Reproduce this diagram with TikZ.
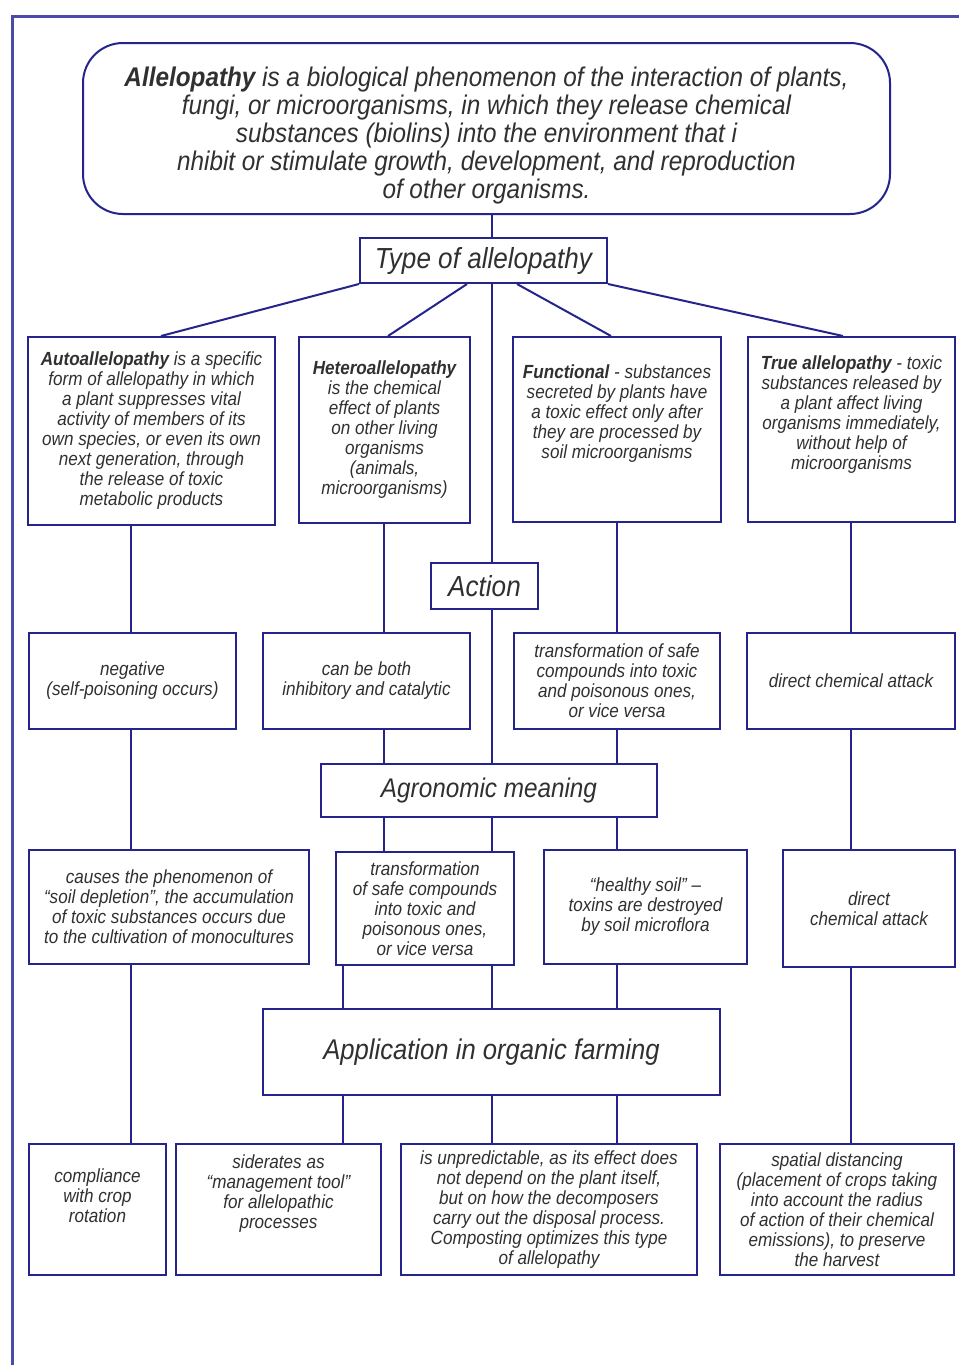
\documentclass[tikz,border=0pt]{standalone}
\usepackage{fontspec}
\setmainfont{Liberation Sans}[FakeStretch=0.9]
\definecolor{navy}{HTML}{24248C}
\definecolor{framec}{HTML}{4A4AA8}
\definecolor{txt}{HTML}{303030}
\tikzset{
  box/.style={draw=navy, line width=2pt, fill=white, align=center, inner sep=0pt, text=txt},
  big/.style={font=\fontsize{29}{30}\selectfont\itshape},
  small/.style={font=\fontsize{19}{20}\selectfont\itshape},
  conn/.style={draw=navy, line width=2pt},
  frame/.style={draw=framec, line width=3pt}
}
\begin{document}
\begin{tikzpicture}[x=1pt,y=-1pt]
\useasboundingbox (0,0) rectangle (959,1365);
\fill[white] (0,0) rectangle (959,1365);
\draw[frame] (12,1365) -- (12,16) -- (959,16);
% column x coordinates
\coordinate (c1) at (131,0);
\coordinate (c2) at (384,0);
\coordinate (c0) at (492,0);
\coordinate (c3) at (617,0);
\coordinate (c4) at (851,0);
\coordinate (cb) at (343,0);
% top
\node[box, rounded corners=40pt, minimum width=807pt, minimum height=171pt, font=\fontsize{27}{28}\selectfont\itshape] (top) at (486.5,128.5)
{\rule{0pt}{34pt}\textbf{Allelopathy} is a biological phenomenon of the interaction of plants,\\ fungi, or microorganisms, in which they release chemical\\ substances (biolins) into the environment that i\\ nhibit or stimulate growth, development, and reproduction\\ of other organisms.};
\node[box, big, minimum width=247pt, minimum height=45pt] (type) at (483.5,260.5) {Type of allelopathy};
% row 1
\node[box, small, minimum width=247pt, minimum height=188pt] (r1a) at (151.5,431)
{\textbf{Autoallelopathy} is a specific\\ form of allelopathy in which\\ a plant suppresses vital\\ activity of members of its\\ own species, or even its own\\ next generation, through\\ the release of toxic\\ metabolic products};
\node[box, small, minimum width=171pt, minimum height=186pt] (r1b) at (384.5,430)
{\textbf{Heteroallelopathy}\\ is the chemical\\ effect of plants\\ on other living\\ organisms\\ (animals,\\ microorganisms)};
\node[box, small, minimum width=208pt, minimum height=185pt] (r1c) at (617,429.5)
{\textbf{Functional} - substances\\ secreted by plants have\\ a toxic effect only after\\ they are processed by\\ soil microorganisms\\[16pt]};
\node[box, small, minimum width=207pt, minimum height=185pt] (r1d) at (851.5,429.5)
{\textbf{True allelopathy} - toxic\\ substances released by\\ a plant affect living\\ organisms immediately,\\ without help of\\ microorganisms\\[14pt]};
\node[box, big, minimum width=107pt, minimum height=46pt] (action) at (484.5,586) {Action};
% row 2
\node[box, small, minimum width=207pt, minimum height=96pt] (r2a) at (132.5,681) {negative\\ (self-poisoning occurs)};
\node[box, small, minimum width=207pt, minimum height=96pt] (r2b) at (366.5,681) {can be both\\ inhibitory and catalytic};
\node[box, small, minimum width=206pt, minimum height=96pt] (r2c) at (617,681) {transformation of safe\\ compounds into toxic\\ and poisonous ones,\\ or vice versa};
\node[box, small, minimum width=208pt, minimum height=96pt] (r2d) at (851,681) {direct chemical attack};
\node[box, font=\fontsize{27}{30}\selectfont\itshape, minimum width=336pt, minimum height=53pt] (agro) at (489,790.5) {Agronomic meaning};
% row 3
\node[box, small, minimum width=280pt, minimum height=114pt] (r3a) at (169,907) {causes the phenomenon of\\ “soil depletion”, the accumulation\\ of toxic substances occurs due\\ to the cultivation of monocultures};
\node[box, small, minimum width=178pt, minimum height=113pt] (r3b) at (425,908.5) {transformation\\ of safe compounds\\ into toxic and\\ poisonous ones,\\ or vice versa};
\node[box, small, minimum width=203pt, minimum height=114pt] (r3c) at (645.5,907) {“healthy soil” –\\ toxins are destroyed\\ by soil microflora};
\node[box, small, minimum width=172pt, minimum height=117pt] (r3d) at (869,908.5) {direct\\ chemical attack};
\node[box, font=\fontsize{28.5}{30}\selectfont\itshape, minimum width=457pt, minimum height=86pt] (app) at (491.5,1052) {Application in organic farming};
% row 4
\node[box, small, minimum width=137pt, minimum height=131pt] (r4a) at (97.5,1209.5) {compliance\\ with crop\\ rotation\\[8pt]};
\node[box, small, minimum width=205pt, minimum height=131pt] (r4b) at (278.5,1209.5) {siderates as\\ “management tool”\\ for allelopathic\\ processes\\[16pt]};
\node[box, small, minimum width=296pt, minimum height=131pt] (r4c) at (549,1209.5) {is unpredictable, as its effect does\\ not depend on the plant itself,\\ but on how the decomposers\\ carry out the disposal process.\\ Composting optimizes this type\\ of allelopathy};
\node[box, small, minimum width=234pt, minimum height=131pt] (r4d) at (837,1209.5) {spatial distancing\\ (placement of crops taking\\ into account the radius\\ of action of their chemical\\ emissions), to preserve\\ the harvest};
% connectors
\draw[conn] (top.south -| c0) -- (type.north -| c0);
\draw[conn] (type.south west) -- ([xshift=9.5pt]r1a.north);
\draw[conn] ([xshift=-16.5pt]type.south) -- ([xshift=3.5pt]r1b.north);
\draw[conn] ([xshift=33.5pt]type.south) -- ([xshift=-6pt]r1c.north);
\draw[conn] (type.south east) -- ([xshift=-8.5pt]r1d.north);
\draw[conn] (type.south -| c0) -- (action.north -| c0);
\draw[conn] (action.south -| c0) -- (agro.north -| c0);
\draw[conn] (agro.south -| c0) -- (r3b.north -| c0);
\draw[conn] (r3b.south -| c0) -- (app.north -| c0);
\draw[conn] (app.south -| c0) -- (r4c.north -| c0);
\draw[conn] (r1a.south -| c1) -- (r2a.north -| c1);
\draw[conn] (r2a.south -| c1) -- (r3a.north -| c1);
\draw[conn] (r3a.south -| c1) -- (r4a.north -| c1);
\draw[conn] (r1b.south -| c2) -- (r2b.north -| c2);
\draw[conn] (r2b.south -| c2) -- (agro.north -| c2);
\draw[conn] (agro.south -| c2) -- (r3b.north -| c2);
\draw[conn] (r3b.south -| cb) -- (app.north -| cb);
\draw[conn] (app.south -| cb) -- (r4b.north -| cb);
\draw[conn] (r1c.south -| c3) -- (r2c.north -| c3);
\draw[conn] (r2c.south -| c3) -- (agro.north -| c3);
\draw[conn] (agro.south -| c3) -- (r3c.north -| c3);
\draw[conn] (r3c.south -| c3) -- (app.north -| c3);
\draw[conn] (app.south -| c3) -- (r4c.north -| c3);
\draw[conn] (r1d.south -| c4) -- (r2d.north -| c4);
\draw[conn] (r2d.south -| c4) -- (r3d.north -| c4);
\draw[conn] (r3d.south -| c4) -- (r4d.north -| c4);
\end{tikzpicture}
\end{document}
